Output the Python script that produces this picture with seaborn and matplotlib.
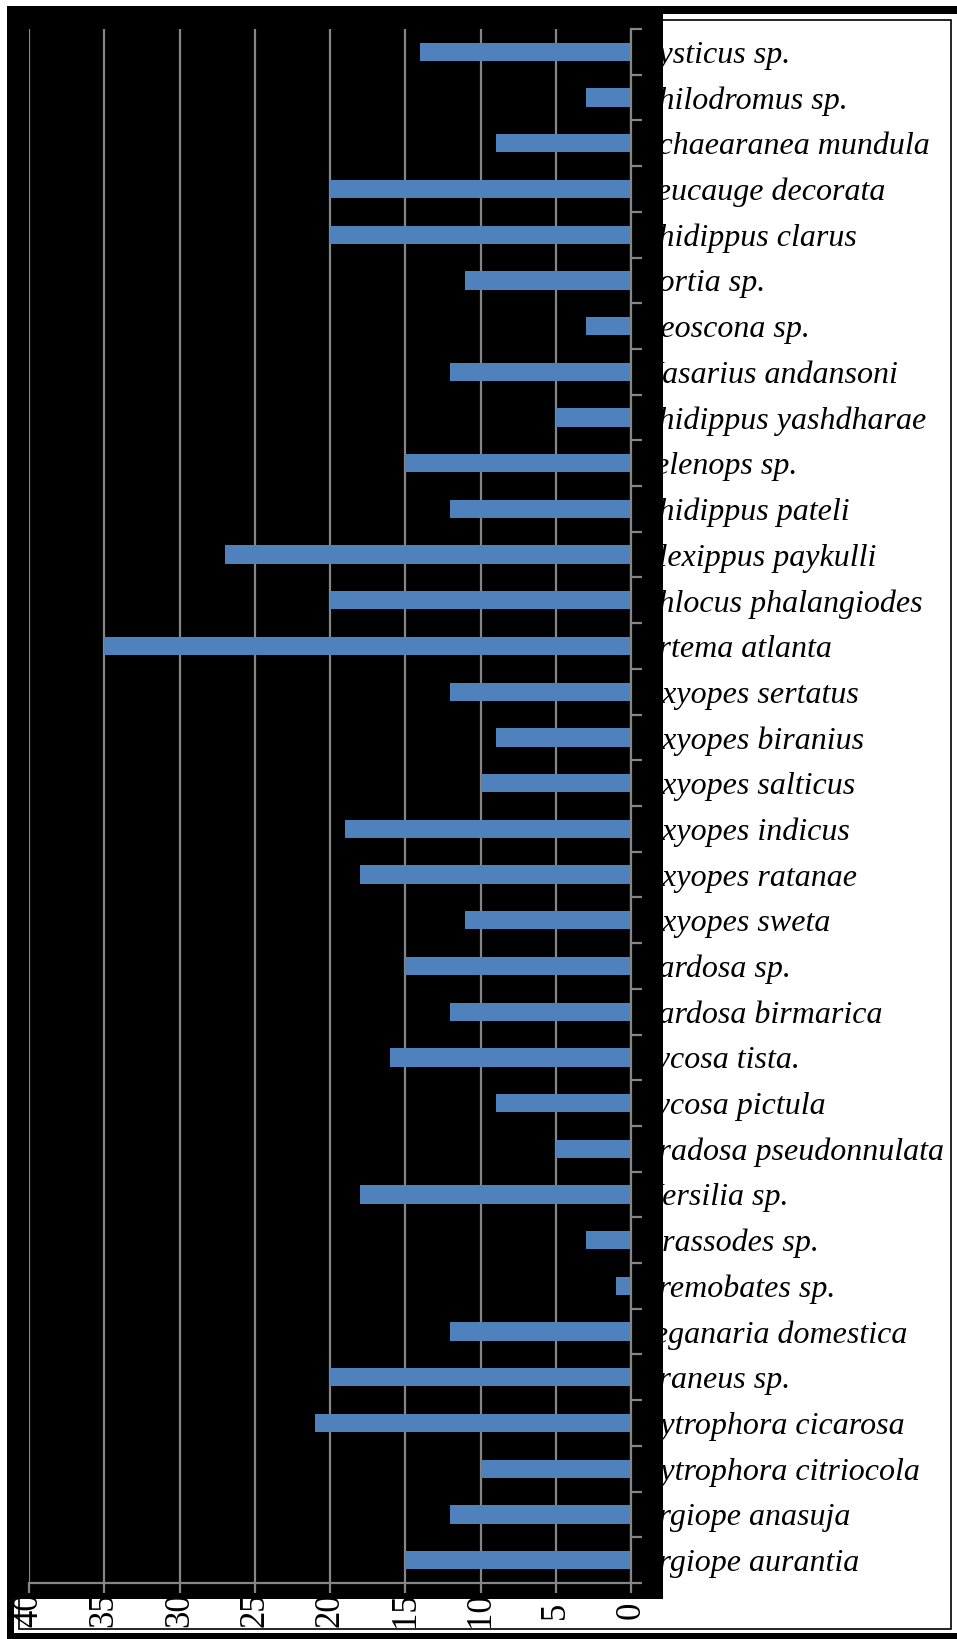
#importing Modules
import numpy as np
import pandas as pd
import matplotlib
matplotlib.use("Agg")
import matplotlib.pyplot as plt
from matplotlib.patches import Rectangle
from matplotlib.transforms import Bbox, TransformedBbox
import seaborn as sns

# Data (top to bottom as in the chart)
species = ["Xysticus sp.", "Philodromus sp.", "Achaearanea mundula", "Leucauge decorata",
           "Phidippus clarus", "Portia sp.", "Neoscona sp.", "Hasarius andansoni",
           "Phidippus yashdharae", "Selenops sp.", "Phidippus pateli", "Plexippus paykulli",
           "Phlocus phalangiodes", "Artema atlanta", "Oxyopes sertatus", "Oxyopes biranius",
           "Oxyopes salticus", "Oxyopes indicus", "Oxyopes ratanae", "Oxyopes sweta",
           "Pardosa sp.", "Pardosa birmarica", "Lycosa tista.", "Lycosa pictula",
           "Pradosa pseudonnulata", "Hersilia sp.", "Drassodes sp.", "Eremobates sp.",
           "Teganaria domestica", "Araneus sp.", "Cytrophora cicarosa", "Cytrophora citriocola",
           "Argiope anasuja", "Argiope aurantia"]
counts = [14, 3, 9, 20, 20, 11, 3, 12, 5, 15, 12, 27, 20, 35, 12, 9, 10, 19, 18, 11,
          15, 12, 16, 9, 5, 18, 3, 1, 12, 20, 21, 10, 12, 15]
x_ticks = [0, 5, 10, 15, 20, 25, 30, 35, 40]

W, H = 957, 1639
GREY = '#868686'


def px_rect(x0, y0, x1, y1):
    # pixel box (origin top-left) -> figure fraction (x, y, w, h)
    return (x0 / W, 1 - y1 / H, (x1 - x0) / W, (y1 - y0) / H)


fig = plt.figure(figsize=(W / 100, H / 100), dpi=100)
fig.patch.set_facecolor('white')

# black panel behind the plot
r = px_rect(7, 6, 663, 1599)
fig.add_artist(Rectangle(r[:2], *r[2:], transform=fig.transFigure,
                         facecolor='black', edgecolor='none', zorder=-5))
# outer thick frame (left, top, bottom)
for r in [px_rect(7, 6, 14, 1639), px_rect(7, 6, 957, 14), px_rect(7, 1633, 957, 1639)]:
    fig.add_artist(Rectangle(r[:2], *r[2:], transform=fig.transFigure,
                             facecolor='black', edgecolor='none', zorder=-4))
# inner thin frame
r = px_rect(19, 20, 951, 1629)
fig.add_artist(Rectangle(r[:2], *r[2:], transform=fig.transFigure,
                         facecolor='none', edgecolor='black', lw=1.2, zorder=-3))

ax = fig.add_axes(px_rect(29, 29, 631, 1583))
ax.set_facecolor('black')

df = pd.DataFrame({'species': species, 'count': counts})
sns.barplot(data=df, x='count', y='species', orient='h', color='#4F81BD',
            saturation=1, width=0.4, linewidth=0, ax=ax)

ax.set_xlim(40, 0)
ax.set_xticks(x_ticks)
ax.set_xticklabels([str(t) for t in x_ticks])
ax.set_xlabel('')
ax.set_ylabel('')
ax.grid(axis='x', color=GREY, lw=1.6)
ax.grid(axis='y', visible=False)
ax.set_axisbelow(True)

ax.yaxis.tick_right()
for s in ['top', 'left']:
    ax.spines[s].set_visible(False)
for s in ['right', 'bottom']:
    ax.spines[s].set_color(GREY)
    ax.spines[s].set_linewidth(1.6)

ax.set_yticks(np.arange(-0.5, len(species), 1), minor=True)
ax.tick_params(axis='y', which='major', length=0, pad=6, labelsize=23)
ax.tick_params(axis='y', which='minor', length=8, color=GREY, width=1.6, right=True, left=False)
ax.tick_params(axis='x', length=7, color=GREY, width=1.6, pad=12.5, labelsize=25, labelrotation=90)

# labels are partly hidden behind the black panel
clip_y = TransformedBbox(Bbox([[663 / W, 0], [1, 1]]), fig.transFigure)
clip_x = TransformedBbox(Bbox([[0, 0], [1, 40 / H]]), fig.transFigure)
for lbl in ax.get_yticklabels():
    lbl.set_fontfamily('Liberation Serif')
    lbl.set_fontstyle('italic')
    lbl.set_clip_box(clip_y)
    lbl.set_clip_on(True)
for lbl in ax.get_xticklabels():
    lbl.set_fontfamily('Liberation Serif')
    lbl.set_va('center')
    lbl.set_clip_box(clip_x)
    lbl.set_clip_on(True)

plt.savefig('out.png', dpi=100, facecolor='white')
